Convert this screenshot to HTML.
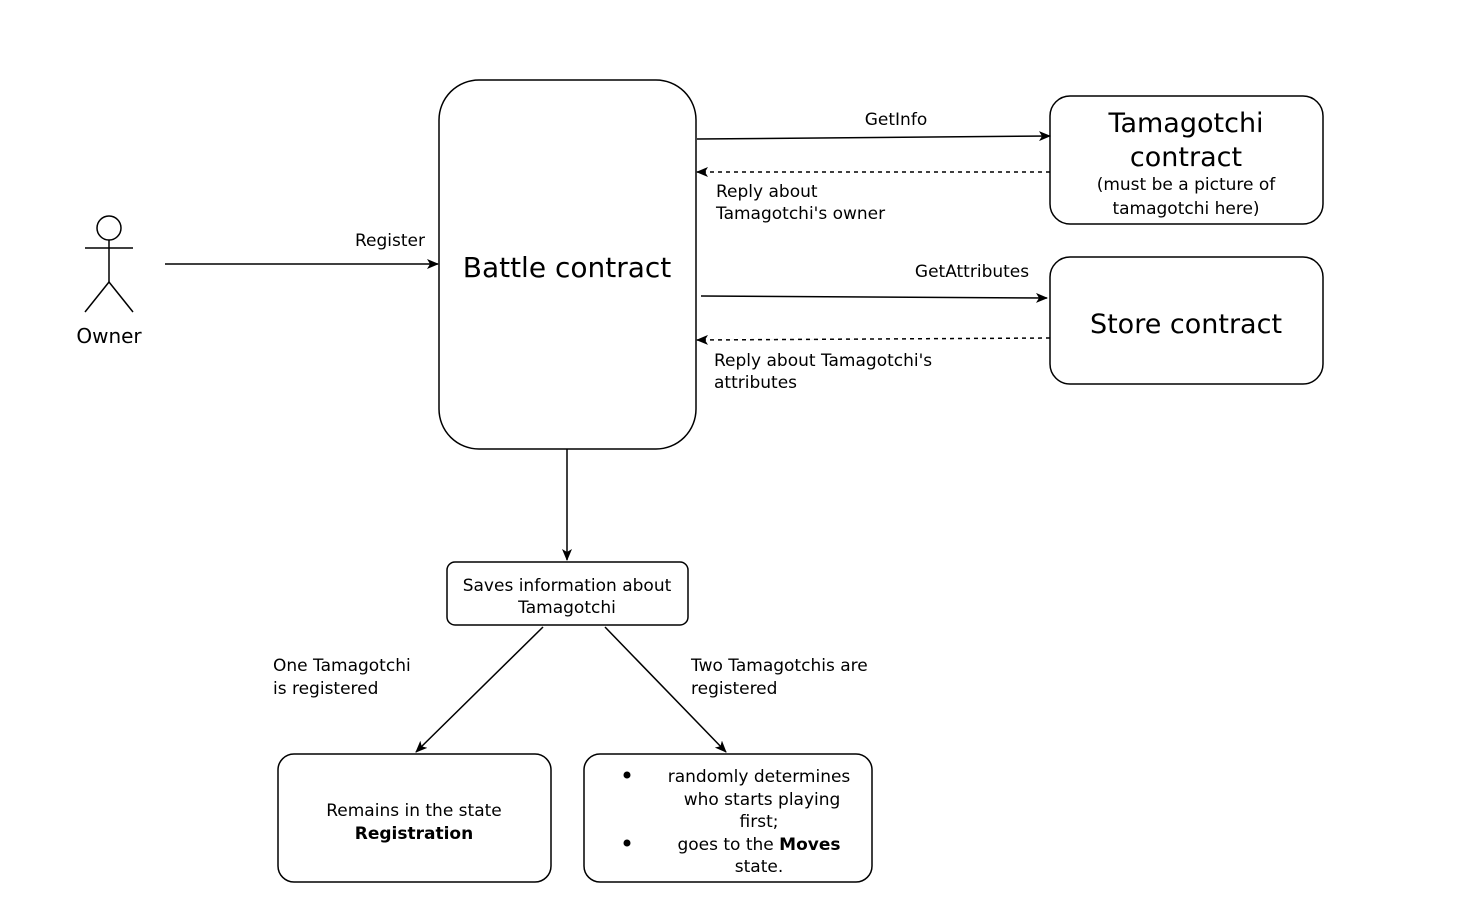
<!DOCTYPE html>
<html><head><meta charset="utf-8"><style>
html,body{margin:0;padding:0;background:#fff;}
svg{display:block;}
text{font-family:"DejaVu Sans","Liberation Sans",sans-serif;fill:#000;}
</style></head><body>
<svg width="1474" height="908" viewBox="0 0 1474 908" xmlns="http://www.w3.org/2000/svg">
<defs>
<marker id="a" markerWidth="12" markerHeight="10" refX="11" refY="5" orient="auto" markerUnits="userSpaceOnUse">
<path d="M0,0 L12,5 L0,10 L3,5 Z" fill="#000"/>
</marker>
</defs>
<g stroke="#000" stroke-width="1.5" fill="none">
<circle cx="109" cy="228" r="12"/>
<line x1="109" y1="240" x2="109" y2="282"/>
<line x1="85" y1="248" x2="133" y2="248"/>
<line x1="109" y1="282" x2="85" y2="312"/>
<line x1="109" y1="282" x2="133" y2="312"/>
<rect x="439" y="80" width="257" height="369" rx="40"/>
<rect x="1050" y="96" width="273" height="128" rx="20"/>
<rect x="1050" y="257" width="273" height="127" rx="20"/>
<rect x="447" y="562" width="241" height="63" rx="8"/>
<rect x="278" y="754" width="273" height="128" rx="16"/>
<rect x="584" y="754" width="288" height="128" rx="16"/>
<line x1="165" y1="264" x2="438" y2="264" marker-end="url(#a)"/>
<line x1="697" y1="139" x2="1050" y2="136" marker-end="url(#a)"/>
<line x1="1050" y1="172" x2="697" y2="172" stroke-dasharray="4,4" marker-end="url(#a)"/>
<line x1="701" y1="296" x2="1047" y2="298" marker-end="url(#a)"/>
<line x1="1050" y1="338" x2="697" y2="340" stroke-dasharray="4,4" marker-end="url(#a)"/>
<line x1="567" y1="449" x2="567" y2="560" marker-end="url(#a)"/>
<line x1="543" y1="627" x2="416" y2="752" marker-end="url(#a)"/>
<line x1="605" y1="627" x2="726" y2="752" marker-end="url(#a)"/>
</g>
<text x="109" y="343" font-size="20" text-anchor="middle" font-family="Liberation Sans">Owner</text>
<g font-size="17">
<text x="390" y="246" text-anchor="middle">Register</text>
<text x="896" y="125" text-anchor="middle">GetInfo</text>
<text x="716" y="197">Reply about</text>
<text x="716" y="219">Tamagotchi's owner</text>
<text x="972" y="277" text-anchor="middle">GetAttributes</text>
<text x="714" y="366">Reply about Tamagotchi's</text>
<text x="714" y="388">attributes</text>
<text x="567" y="591" text-anchor="middle">Saves information  about</text>
<text x="567" y="613" text-anchor="middle">Tamagotchi</text>
<text x="273" y="671">One Tamagotchi</text>
<text x="273" y="694">is registered</text>
<text x="691" y="671">Two Tamagotchis are</text>
<text x="691" y="694">registered</text>
<text x="414" y="816" text-anchor="middle">Remains in the state</text>
<text x="414" y="839" text-anchor="middle" font-weight="bold">Registration</text>
<text x="759" y="782" text-anchor="middle">randomly determines</text>
<text x="762" y="805" text-anchor="middle">who starts playing</text>
<text x="759" y="827" text-anchor="middle">first;</text>
<text x="759" y="850" text-anchor="middle">goes to the <tspan font-weight="bold">Moves</tspan></text>
<text x="759" y="872" text-anchor="middle">state.</text>
<text x="1186" y="190" text-anchor="middle">(must be a picture of</text>
<text x="1186" y="214" text-anchor="middle">tamagotchi here)</text>
</g>
<circle cx="627" cy="775" r="3.5" fill="#000"/>
<circle cx="627" cy="843" r="3.5" fill="#000"/>
<text x="567" y="277" font-size="28" text-anchor="middle">Battle contract</text>
<text x="1186" y="132" font-size="27" text-anchor="middle">Tamagotchi</text>
<text x="1186" y="166" font-size="27" text-anchor="middle">contract</text>
<text x="1186" y="333" font-size="27" text-anchor="middle">Store contract</text>
</svg>
</body></html>
